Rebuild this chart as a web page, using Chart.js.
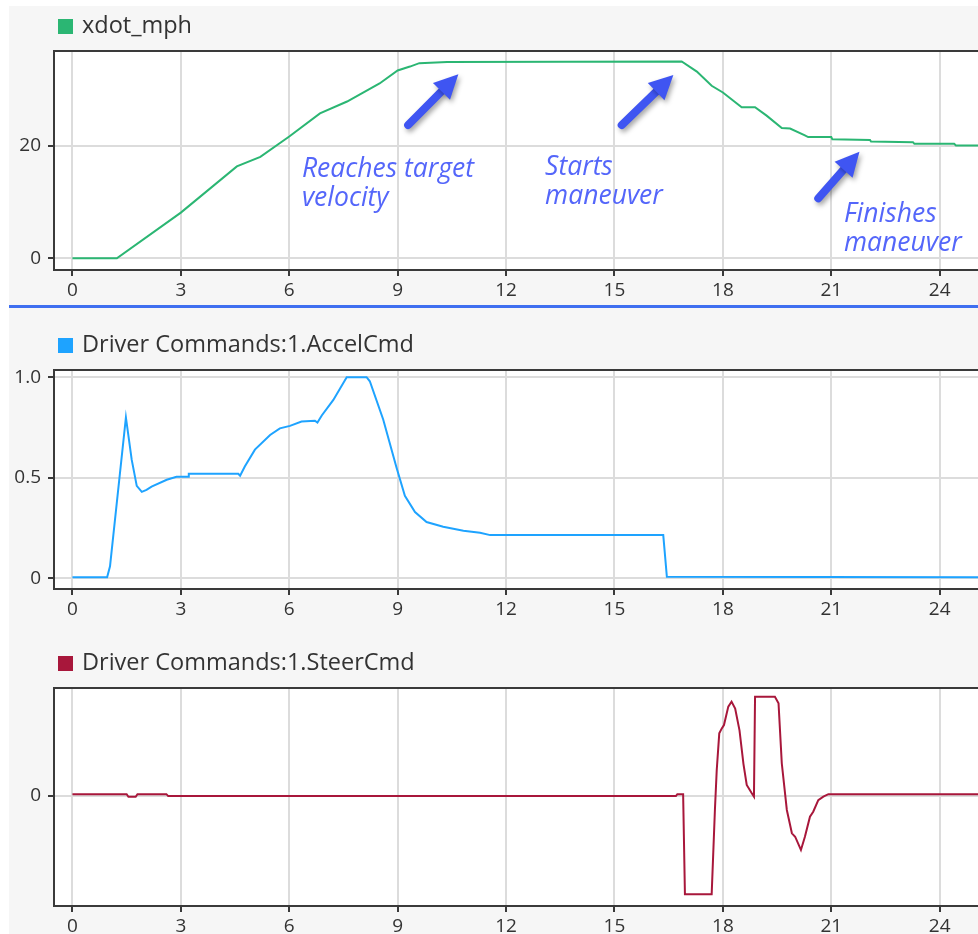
<!DOCTYPE html>
<html><head><meta charset="utf-8">
<script src="https://cdn.jsdelivr.net/npm/chart.js@4.4.1/dist/chart.umd.min.js"></script>
<style>
html,body{margin:0;padding:0;background:#fff;}
#wrap{position:absolute;left:9px;top:6px;width:969px;height:928px;background:#f6f6f6;overflow:hidden;}
.pc{position:absolute;left:0;width:969px;}
#sep{position:absolute;left:0;top:299px;width:969px;height:2.5px;background:#3f6ff0;}
</style></head><body>
<div id="wrap">
<div class="pc" style="top:0;height:298px"><canvas id="c1" width="969" height="298"></canvas></div>
<div id="sep"></div>
<div class="pc" style="top:304px;height:312px"><canvas id="c2" width="969" height="312"></canvas></div>
<div class="pc" style="top:619px;height:309px"><canvas id="c3" width="969" height="309"></canvas></div>
</div>
<script>
// ---- data ----
const xTicks = [0, 3, 6, 9, 12, 15, 18, 21, 24];

const speedLabel = 'xdot_mph';
const tSpeed = [0, 1.23, 3.0, 4.55, 5.2, 6.0, 6.85, 7.6, 8.5, 9.0, 9.34, 9.6, 10.37, 16.86, 17.28, 17.69, 18.0, 18.52, 18.89, 19.21, 19.63, 19.86, 20.27, 20.36, 21.0, 21.03, 22.07, 22.1, 23.26, 23.3, 24.4, 24.45, 25.06];
const vSpeed = [0, 0, 8.1, 16.3, 18.0, 21.6, 25.7, 27.8, 31.0, 33.3, 34.0, 34.6, 34.8, 34.9, 33.1, 30.6, 29.4, 26.8, 26.8, 25.3, 23.1, 23.0, 21.8, 21.5, 21.5, 21.1, 21.0, 20.7, 20.6, 20.3, 20.3, 20.0, 20.0];
const speedTicks = [0, 20];
const speedTickLabels = ['0', '20'];

const accelLabel = 'Driver Commands:1.AccelCmd';
const tAccel = [0, 0.96, 1.04, 1.48, 1.64, 1.78, 1.92, 2.05, 2.19, 2.61, 2.88, 3.2, 3.22, 4.59, 4.64, 4.77, 5.05, 5.47, 5.74, 6.02, 6.34, 6.71, 6.78, 6.9, 7.22, 7.59, 8.14, 8.23, 8.6, 8.97, 9.2, 9.48, 9.8, 10.26, 10.82, 11.28, 11.56, 16.35, 16.45, 25.06];
const vAccel = [0.005, 0.005, 0.06, 0.8, 0.59, 0.46, 0.43, 0.44, 0.456, 0.49, 0.505, 0.505, 0.52, 0.52, 0.51, 0.556, 0.64, 0.713, 0.746, 0.758, 0.78, 0.784, 0.775, 0.81, 0.887, 1.0, 1.0, 0.98, 0.79, 0.55, 0.41, 0.33, 0.28, 0.257, 0.237, 0.227, 0.215, 0.215, 0.008, 0.005];
const accelTicks = [0, 0.5, 1.0];
const accelTickLabels = ['0', '0.5', '1.0'];

const steerLabel = 'Driver Commands:1.SteerCmd';
const tSteer = [0, 1.5, 1.55, 1.75, 1.8, 2.6, 2.65, 16.7, 16.74, 16.9, 16.95, 17.69, 17.78, 17.83, 17.9, 17.97, 18.03, 18.15, 18.24, 18.34, 18.46, 18.57, 18.66, 18.8, 18.86, 18.89, 19.44, 19.54, 19.63, 19.77, 19.91, 20.0, 20.16, 20.27, 20.41, 20.5, 20.64, 20.78, 20.92, 25.06];
const vSteer = [0.008, 0.008, -0.005, -0.005, 0.008, 0.008, -0.002, -0.002, 0.008, 0.008, -0.498, -0.498, -0.07, 0.13, 0.315, 0.34, 0.357, 0.45, 0.475, 0.44, 0.33, 0.16, 0.054, 0.012, -0.005, 0.5, 0.5, 0.467, 0.164, -0.072, -0.19, -0.207, -0.274, -0.207, -0.106, -0.081, -0.022, -0.005, 0.008, 0.008];
const steerTicks = [0];
const steerTickLabels = ['0'];

// annotations (data coordinates of top panel)
const noteLines = [['Reaches target', 'velocity'], ['Starts', 'maneuver'], ['Finishes', 'maneuver']];
const noteT = [6.35, 13.08, 21.35];
const noteV = [14.47, 14.8, 6.5];
const arrowFrom = [[9.29, 23.63], [15.2, 23.63], [20.64, 10.64]];
const arrowTo = [[10.68, 32.62], [16.63, 32.5], [21.78, 18.9]];

// ---- styling ----
const FONT = "'Open Sans', 'Liberation Sans', Arial, sans-serif";
Chart.defaults.font.family = FONT;
Chart.defaults.font.size = 19;
Chart.defaults.color = '#333';

const framePlugin = {
  id: 'frame',
  beforeDraw(chart) {
    const {ctx, chartArea: a} = chart;
    ctx.save();
    ctx.fillStyle = '#ffffff';
    ctx.fillRect(a.left, a.top, a.right - a.left + 2, a.bottom - a.top);
    ctx.restore();
  },
  afterDraw(chart) {
    const {ctx, chartArea: a} = chart;
    ctx.save();
    ctx.strokeStyle = '#3a3a3a';
    ctx.lineWidth = 2;
    ctx.beginPath();
    ctx.moveTo(a.right + 2, a.top);
    ctx.lineTo(a.left, a.top);
    ctx.lineTo(a.left, a.bottom);
    ctx.lineTo(a.right + 2, a.bottom);
    ctx.stroke();
    // legend
    const ds = chart.data.datasets[0];
    ctx.fillStyle = ds.borderColor;
    ctx.fillRect(a.left + 4, a.top - 32, 15, 15);
    ctx.fillStyle = '#333';
    ctx.font = '23.5px ' + FONT;
    ctx.textBaseline = 'alphabetic';
    ctx.fillText(ds.label, a.left + 28, a.top - 18);
    ctx.restore();
  }
};

const annotPlugin = {
  id: 'annot',
  afterDraw(chart) {
    if (!chart.options.plugins.annot || !chart.options.plugins.annot.on) return;
    const {ctx} = chart;
    const xs = chart.scales.x, ys = chart.scales.y;
    ctx.save();
    ctx.font = 'italic 26.5px ' + FONT;
    ctx.fillStyle = '#5466fa';
    noteLines.forEach((lines, i) => {
      const x = xs.getPixelForValue(noteT[i]);
      const y = ys.getPixelForValue(noteV[i]);
      lines.forEach((s, j) => ctx.fillText(s, x, y + j * 29));
    });
    arrowFrom.forEach((f, i) => {
      const x0 = xs.getPixelForValue(f[0]), y0 = ys.getPixelForValue(f[1]);
      const x1 = xs.getPixelForValue(arrowTo[i][0]), y1 = ys.getPixelForValue(arrowTo[i][1]);
      const ang = Math.atan2(y1 - y0, x1 - x0);
      const hl = 24, hw = 12;
      const bx = x1 - hl * Math.cos(ang), by = y1 - hl * Math.sin(ang);
      ctx.save();
      ctx.shadowColor = 'rgba(0,0,0,0.35)';
      ctx.shadowBlur = 5;
      ctx.shadowOffsetX = 2;
      ctx.shadowOffsetY = 3;
      ctx.strokeStyle = '#3f55f2';
      ctx.fillStyle = '#3f55f2';
      ctx.lineWidth = 8;
      ctx.lineCap = 'round';
      ctx.beginPath();
      ctx.moveTo(x0, y0);
      ctx.lineTo(bx + 2 * Math.cos(ang), by + 2 * Math.sin(ang));
      ctx.stroke();
      ctx.beginPath();
      ctx.moveTo(x1, y1);
      ctx.lineTo(bx + hw * Math.sin(ang), by - hw * Math.cos(ang));
      ctx.lineTo(bx - hw * Math.sin(ang), by + hw * Math.cos(ang));
      ctx.closePath();
      ctx.fill();
      ctx.restore();
    });
    ctx.restore();
  }
};

function makeChart(id, label, ts, vs, color, yMin, yMax, yTicks, yLabels, padTop, axisH, annot) {
  return new Chart(document.getElementById(id), {
    type: 'line',
    data: {
      datasets: [{
        label: label,
        data: ts.map((t, i) => ({x: t, y: vs[i]})),
        borderColor: color,
        backgroundColor: color,
        borderWidth: 2,
        pointRadius: 0,
        tension: 0,
        fill: false
      }]
    },
    options: {
      responsive: false,
      animation: false,
      layout: {padding: {top: padTop, left: 0, right: 0, bottom: 0}},
      plugins: {legend: {display: false}, tooltip: {enabled: false}, annot: {on: annot}},
      scales: {
        x: {
          type: 'linear', min: -0.51, max: 25.06,
          afterBuildTicks: s => { s.ticks = xTicks.map(v => ({value: v})); },
          afterFit: s => { s.height = axisH; },
          ticks: {padding: 3, maxRotation: 0, autoSkip: false, color: '#333', callback: v => String(v)},
          grid: {color: '#dcdcdc', lineWidth: 2, tickColor: '#3a3a3a', tickLength: 6},
          border: {display: false}
        },
        y: {
          type: 'linear', min: yMin, max: yMax,
          afterBuildTicks: s => { s.ticks = yTicks.map(v => ({value: v})); },
          afterFit: s => { s.width = 45; },
          ticks: {padding: 7, color: '#333', callback: (v) => yLabels[yTicks.indexOf(v)]},
          grid: {color: '#dcdcdc', lineWidth: 2, tickColor: '#3a3a3a', tickLength: 6},
          border: {display: false}
        }
      }
    },
    plugins: [framePlugin, annotPlugin]
  });
}

makeChart('c1', speedLabel, tSpeed, vSpeed, '#2bb673', -2.07, 36.76, speedTicks, speedTickLabels, 45, 34, true);
makeChart('c2', accelLabel, tAccel, vAccel, '#1ea3ff', -0.053, 1.036, accelTicks, accelTickLabels, 60, 33, false);
makeChart('c3', steerLabel, tSteer, vSteer, '#a8173b', -0.557, 0.544, steerTicks, steerTickLabels, 63, 28, false);
</script>
</body></html>
